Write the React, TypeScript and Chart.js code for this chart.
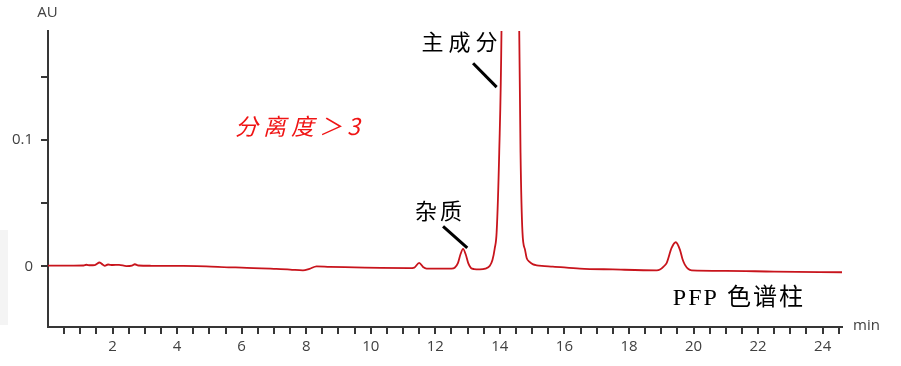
import React, { useEffect, useRef } from 'react';
import { Chart, registerables } from 'chart.js';

Chart.register(...registerables);

// retention time (min)
const times = [
  0, 0.8, 1.1, 1.19, 1.3, 1.45, 1.6, 1.7, 1.76, 1.86, 2.0, 2.2, 2.43, 2.6, 2.69, 2.8, 3.2, 4.0, 4.9, 5.6,
  6.0, 7.0, 7.5, 7.9, 8.1, 8.32, 8.73, 9.5, 10.3, 11.2, 11.35, 11.5, 11.62, 11.73, 12.0, 12.5, 12.6, 12.7,
  12.78, 12.86, 12.94, 13.02, 13.1, 13.2, 13.38, 13.55, 13.69, 13.77, 13.84, 13.9, 13.98, 14.05, 14.15,
  14.32, 14.5, 14.6, 14.64, 14.7, 14.78, 14.83, 14.92, 15.03, 15.14, 15.3, 15.64, 16.48, 17.5, 18.86,
  18.96, 19.08, 19.17, 19.32, 19.45, 19.58, 19.66, 19.73, 19.84, 19.94, 21, 22.5, 24.6,
];

// absorbance (AU)
const absorbance = [
  0.0005, 0.0005, 0.0006, 0.0012, 0.0008, 0.001, 0.003, 0.0012, 0.0004, 0.0014, 0.001, 0.0011, 0.0002,
  0.0006, 0.0016, 0.0006, 0.0004, 0.0003, 0.0, -0.0008, -0.001, -0.002, -0.0026, -0.0033, -0.002, 0.0,
  -0.0004, -0.0008, -0.0013, -0.0015, -0.001, 0.0027, -0.0005, -0.0018, -0.0019, -0.0019, -0.0012,
  0.0025, 0.0095, 0.0138, 0.0095, 0.0025, -0.0012, -0.0022, -0.0024, -0.0018, 0.0005, 0.005, 0.014,
  0.027, 0.09, 0.186, 0.55, 1.05, 0.55, 0.186, 0.09, 0.027, 0.013, 0.0065, 0.0035, 0.0015, 0.0008,
  0.0003, -0.0002, -0.0018, -0.0025, -0.0032, -0.0026, 0.0, 0.0027, 0.0145, 0.019, 0.013, 0.0055,
  0.0013, -0.0022, -0.0032, -0.0036, -0.0042, -0.0047,
];

const xMin = 0;
const xMax = 24.6;
const xMinorStep = 0.5;
const xLabelEvery = 2;
const yMin = -0.048;
const yMax = 0.186;
const yTickValues = [0, 0.05, 0.1, 0.15];
const yTickLabels = ['0', '', '0.1', ''];

// annotations in data units
const mainLabel = { text: '主成分', t: 11.57, v: 0.1774 };
const mainLeader = [
  [13.17, 0.1605],
  [13.9, 0.1416],
];
const impurityLabel = { text: '杂质', t: 11.37, v: 0.044 };
const impurityLeader = [
  [12.24, 0.0316],
  [12.99, 0.0145],
];
const resolutionLabel = { text: '分离度＞3', t: 5.79, v: 0.111 };
const columnLabel = { text: 'PFP 色谱柱', t: 19.36, v: -0.0255 };

const TICK_FONT = "'Open Sans', 'DejaVu Sans', sans-serif";
const AXIS_COLOR = '#363636';
const LABEL_COLOR = '#404040';

const annotationPlugin = {
  id: 'chromAnnotations',
  afterDraw(chart: any) {
    const ctx = chart.ctx as CanvasRenderingContext2D;
    const xs = chart.scales.x;
    const ys = chart.scales.y;
    const px = (t: number) => xs.getPixelForValue(t);
    const py = (v: number) => ys.getPixelForValue(v);
    ctx.save();

    // leader lines
    ctx.strokeStyle = '#000';
    ctx.lineWidth = 3;
    ctx.lineCap = 'butt';
    for (const seg of [mainLeader, impurityLeader]) {
      ctx.beginPath();
      ctx.moveTo(px(seg[0][0]), py(seg[0][1]));
      ctx.lineTo(px(seg[1][0]), py(seg[1][1]));
      ctx.stroke();
    }

    ctx.textBaseline = 'middle';
    ctx.textAlign = 'left';

    // black CJK annotations
    ctx.fillStyle = '#000';
    ctx.font = "22px 'Noto Sans CJK SC', sans-serif";
    (ctx as any).letterSpacing = '5px';
    ctx.fillText(mainLabel.text, px(mainLabel.t), py(mainLabel.v));
    (ctx as any).letterSpacing = '3px';
    ctx.fillText(impurityLabel.text, px(impurityLabel.t), py(impurityLabel.v));

    // column label
    ctx.font = "24px 'Liberation Serif', 'Noto Sans CJK SC', serif";
    (ctx as any).letterSpacing = '2px';
    ctx.fillText(columnLabel.text, px(columnLabel.t), py(columnLabel.v));

    // red resolution label
    ctx.fillStyle = '#f01414';
    ctx.font = "italic 23px 'Noto Sans CJK SC', sans-serif";
    (ctx as any).letterSpacing = '5px';
    ctx.fillText(resolutionLabel.text, px(resolutionLabel.t), py(resolutionLabel.v));

    // axis units
    (ctx as any).letterSpacing = '0px';
    ctx.fillStyle = LABEL_COLOR;
    ctx.font = `15px ${TICK_FONT}`;
    ctx.textAlign = 'center';
    ctx.fillText('AU', chart.chartArea.left - 0.5, chart.chartArea.top - 18.5);
    ctx.textAlign = 'left';
    ctx.fillText('min', chart.chartArea.right + 11, chart.chartArea.bottom - 1);

    ctx.restore();
  },
};

export default function App() {
  const canvasRef = useRef<HTMLCanvasElement | null>(null);

  useEffect(() => {
    const canvas = canvasRef.current;
    if (!canvas) return;
    const points = times.map((t, i) => ({ x: t, y: absorbance[i] }));
    const xTicks: number[] = [];
    for (let k = 1; k * xMinorStep < xMax; k++) xTicks.push(k * xMinorStep);

    const chart = new Chart(canvas, {
      type: 'line',
      data: {
        datasets: [
          {
            data: points,
            borderColor: '#c8141c',
            borderWidth: 1.8,
            pointRadius: 0,
            fill: false,
            cubicInterpolationMode: 'monotone',
          },
        ],
      },
      options: {
        animation: false,
        responsive: false,
        devicePixelRatio: 1,
        parsing: false as any,
        layout: { padding: { top: 31, right: 59, left: 0, bottom: 0 } },
        plugins: { legend: { display: false }, tooltip: { enabled: false } },
        scales: {
          x: {
            type: 'linear',
            min: xMin,
            max: xMax,
            afterFit: (s: any) => {
              s.height = 39;
            },
            afterBuildTicks: (s: any) => {
              s.ticks = xTicks.map((v) => ({ value: v }));
            },
            ticks: {
              autoSkip: false,
              maxRotation: 0,
              padding: 4,
              color: LABEL_COLOR,
              font: { family: TICK_FONT, size: 15 },
              callback: (v: any) => (Math.abs(v % xLabelEvery) < 1e-9 ? String(v) : ''),
            },
            grid: {
              drawOnChartArea: false,
              drawTicks: true,
              tickLength: 7,
              color: AXIS_COLOR,
              lineWidth: 2,
            },
            border: { display: true, color: AXIS_COLOR, width: 2 },
          },
          y: {
            type: 'linear',
            min: yMin,
            max: yMax,
            afterFit: (s: any) => {
              s.width = 48;
            },
            afterBuildTicks: (s: any) => {
              s.ticks = yTickValues.map((v) => ({ value: v }));
            },
            ticks: {
              autoSkip: false,
              padding: 8,
              color: LABEL_COLOR,
              font: { family: TICK_FONT, size: 15 },
              callback: (_v: any, i: number) => yTickLabels[i],
            },
            grid: {
              drawOnChartArea: false,
              drawTicks: true,
              tickLength: 7,
              color: AXIS_COLOR,
              lineWidth: 2,
            },
            border: { display: true, color: AXIS_COLOR, width: 2 },
          },
        },
      },
      plugins: [annotationPlugin],
    });
    return () => chart.destroy();
  }, []);

  return (
    <div style={{ position: 'absolute', left: 0, top: 0, width: 901, height: 366, background: '#fff' }}>
      <div style={{ position: 'absolute', left: 0, top: 230, width: 8, height: 95, background: '#f4f4f4' }} />
      <canvas ref={canvasRef} width={901} height={366} style={{ position: 'absolute', left: 0, top: 0, display: 'block' }} />
    </div>
  );
}
